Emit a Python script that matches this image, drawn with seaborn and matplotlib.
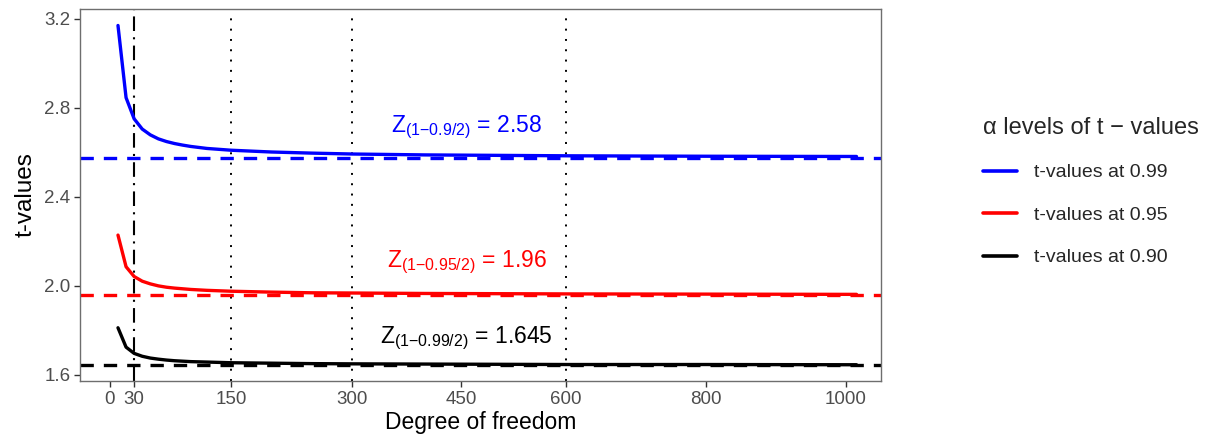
import numpy as np
import pandas as pd
import matplotlib
matplotlib.use("Agg")
import matplotlib.pyplot as plt
import seaborn as sns

# ---- data ----
dof = [10, 20, 30, 40, 50, 60, 70, 80, 90, 100, 120, 150, 200, 250, 300,
       400, 500, 600, 800, 1000, 1015]
t_099 = [3.169, 2.845, 2.750, 2.704, 2.678, 2.660, 2.648, 2.639, 2.632, 2.626,
         2.617, 2.609, 2.601, 2.596, 2.592, 2.588, 2.586, 2.584, 2.582, 2.581, 2.581]
t_095 = [2.228, 2.086, 2.042, 2.021, 2.009, 2.000, 1.994, 1.990, 1.987, 1.984,
         1.980, 1.976, 1.972, 1.969, 1.968, 1.966, 1.965, 1.964, 1.963, 1.962, 1.962]
t_090 = [1.812, 1.725, 1.697, 1.684, 1.676, 1.671, 1.667, 1.664, 1.662, 1.660,
         1.658, 1.655, 1.653, 1.651, 1.650, 1.649, 1.648, 1.647, 1.647, 1.646, 1.646]
series_names = ["t-values at 0.99", "t-values at 0.95", "t-values at 0.90"]
series_colors = ["#0000FF", "#FF0000", "#000000"]
z_values = [2.576, 1.96, 1.645]
z_labels = [r"$\mathregular{Z_{(1{-}0.9/2)}}$ = 2.58",
            r"$\mathregular{Z_{(1{-}0.95/2)}}$ = 1.96",
            r"$\mathregular{Z_{(1{-}0.99/2)}}$ = 1.645"]
z_label_y = [2.71, 2.105, 1.765]
dotted_x = [150, 300, 600]
dashdot_x = [30]
x_ticks = [0, 30, 150, 300, 450, 600, 800, 1000]
y_ticks = [1.6, 2.0, 2.4, 2.8, 3.2]

df = pd.DataFrame({
    "dof": dof * 3,
    "t": t_099 + t_095 + t_090,
    "series": sum([[n] * len(dof) for n in series_names], []),
})

sns.set_theme(style="white")
plt.rcParams["font.family"] = ["Liberation Sans", "DejaVu Sans"]
plt.rcParams["mathtext.fontset"] = "custom"
plt.rcParams["mathtext.rm"] = "Liberation Sans"

fig = plt.figure(figsize=(12.07, 4.45), dpi=100)
ax = fig.add_axes([80 / 1207, 1 - 381 / 445, (881 - 80) / 1207, (381 - 9) / 445])

# piecewise-linear x scale (as in the reference axis)
bx = np.array([-500.0, 0.0, 300.0, 450.0, 1000.0, 2000.0])
by = np.array([-403.85, 0.0, 242.3, 351.0, 735.7, 1435.2])
fwd = lambda x: np.interp(x, bx, by)
inv = lambda y: np.interp(y, by, bx)
ax.set_xscale("function", functions=(fwd, inv))

# reference lines
for xv in dotted_x:
    ax.axvline(xv, color="black", lw=1.4, linestyle=(0, (1, 4.3)), zorder=1)
for xv in dashdot_x:
    ax.axvline(xv, color="black", lw=1.5, linestyle=(0, (7, 3, 1, 3)), zorder=1)
for zv, c in zip(z_values, series_colors):
    ax.axhline(zv, color=c, lw=2.4, linestyle=(0, (4, 3)), zorder=2)

sns.lineplot(data=df, x="dof", y="t", hue="series", hue_order=series_names,
             palette=series_colors, lw=2.4, ax=ax, zorder=3, legend=True)

for lab, yv, c in zip(z_labels, z_label_y, series_colors):
    ax.text(458, yv, lab, color=c, fontsize=16.5, ha="center", va="center")

ax.set_xlim(-37, 1050)
ax.set_ylim(1.573, 3.243)
ax.set_xticks(x_ticks)
ax.set_xticklabels([str(v) for v in x_ticks])
ax.set_yticks(y_ticks)
ax.set_yticklabels([f"{v:.1f}" for v in y_ticks])
ax.tick_params(axis="both", which="major", length=4, width=1, color="#333333",
               labelcolor="#4D4D4D", labelsize=13.5, direction="out", pad=3,
               bottom=True, left=True)
ax.set_xlabel("Degree of freedom", fontsize=16.5, color="black", labelpad=2)
ax.set_ylabel("t-values", fontsize=17.5, color="black", labelpad=5)
for s in ax.spines.values():
    s.set_color("#6E6E6E")
    s.set_linewidth(1.0)
ax.grid(False)

handles, labels = ax.get_legend_handles_labels()
ax.get_legend().remove()
for h in handles:
    h.set_linewidth(2.6)
leg = fig.legend(handles, labels, title="α levels of t − values",
                 loc="upper left", bbox_to_anchor=(983 / 1207, 1 - 117 / 445),
                 frameon=False, fontsize=14, title_fontsize=17,
                 handlelength=1.75, handletextpad=0.85, labelspacing=1.28,
                 borderaxespad=0, borderpad=0, alignment="left")

fig.savefig("out.png", dpi=100)
